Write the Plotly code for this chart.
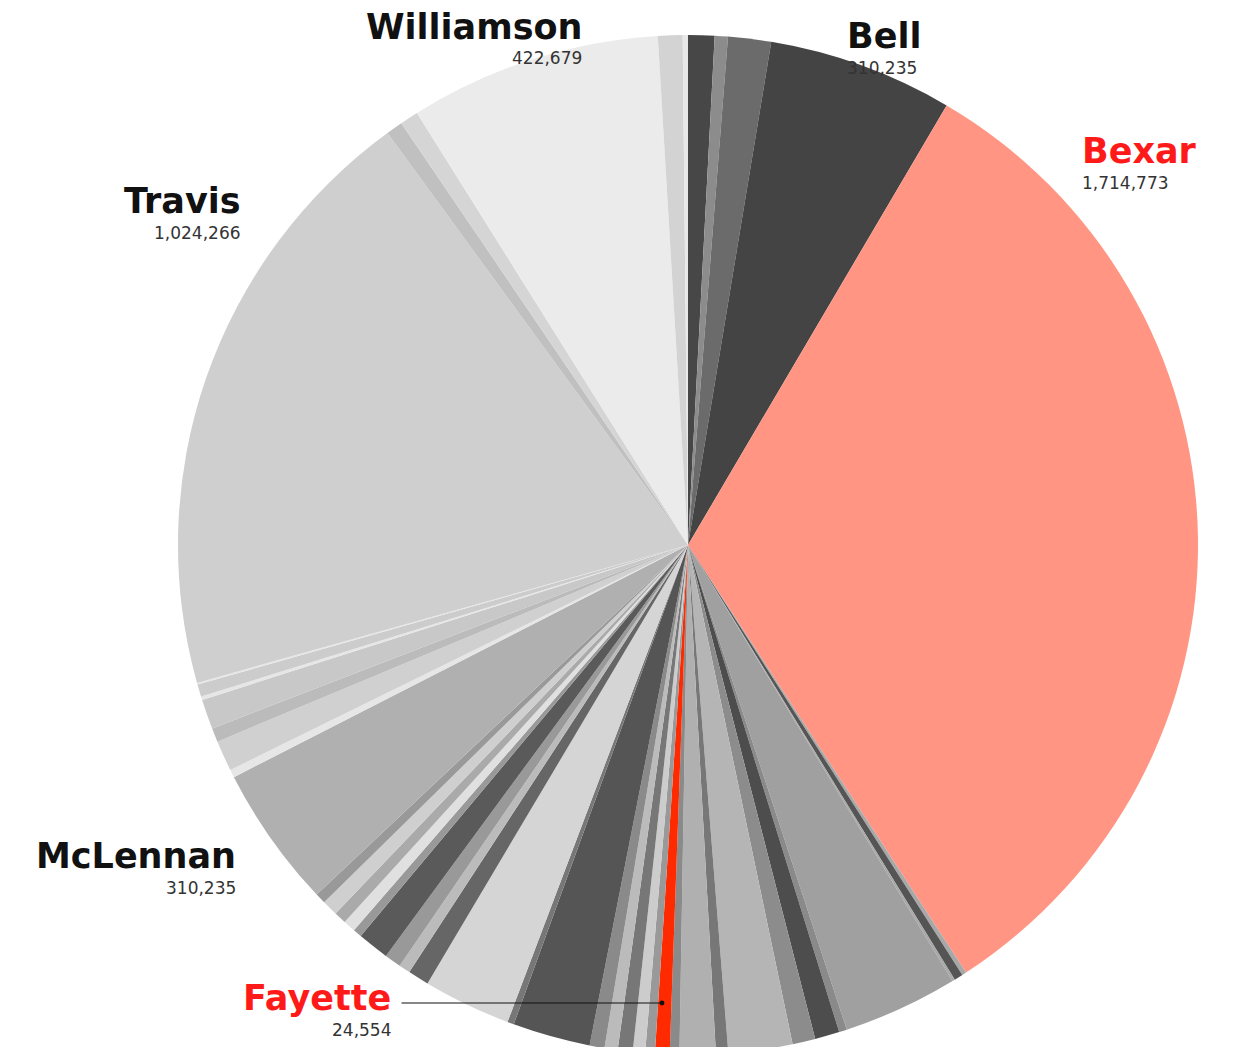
import plotly.graph_objects as go

# Counties clockwise from 12 o'clock; unnamed slivers are the small counties
counties = [
    "c01", "c02", "c03", "Bell", "Bexar",
    "c06", "c07", "c08", "c09", "c10", "c11", "c12", "c13", "c14", "c15", "c16",
    "Fayette",
    "c18", "c19", "c20", "c21", "c22", "c23", "c24", "c25", "c26", "c27", "c28",
    "c29", "c30", "c31", "c32", "c33", "c34",
    "McLennan",
    "c36", "c37", "c38", "c39", "c40", "c41", "c42",
    "Travis",
    "c44", "c45",
    "Williamson",
    "c47", "c48",
]
population = [
    44166, 22083, 72138, 310235, 1714773,
    7400, 14700, 4400, 192900, 13250, 41200, 38300, 107500, 20600, 60400, 16200,
    24554,
    16200, 20600, 25000, 22100, 25000, 130300, 11000, 147200, 35300, 19100, 28000,
    53000, 14700, 20600, 20600, 26500, 17700,
    238500,
    13250, 51500, 23550, 50000, 5900, 20600, 2900,
    1024266,
    28000, 30900,
    422679,
    41200, 8800,
]
slice_colors = [
    "#474747", "#8c8c8c", "#6b6b6b", "#444444", "#ff9582",
    "#a8a8a8", "#555555", "#a8a8a8", "#a0a0a0", "#8a8a8a", "#4d4d4d", "#8c8c8c",
    "#b5b5b5", "#777777", "#b0b0b0", "#8a8a8a",
    "#ff2a00",
    "#999999", "#cccccc", "#777777", "#bbbbbb", "#8a8a8a", "#555555", "#777777",
    "#d5d5d5", "#666666", "#bbbbbb", "#999999", "#5a5a5a", "#999999", "#e0e0e0",
    "#aaaaaa", "#cfcfcf", "#999999",
    "#b0b0b0",
    "#e6e6e6", "#d0d0d0", "#bbbbbb", "#c8c8c8", "#e6e6e6", "#cccccc", "#e6e6e6",
    "#cfcfcf",
    "#c0c0c0", "#d5d5d5",
    "#ebebeb",
    "#d3d3d3", "#e8e8e8",
]

# Callout labels (name, shown figure)
label_names = ["Williamson", "Bell", "Bexar", "Travis", "McLennan", "Fayette"]
label_values = ["422,679", "310,235", "1,714,773", "1,024,266", "310,235", "24,554"]

W, H = 1243, 1047
OFF = 8  # page margin around the plot div


def fx(px):
    return (px - OFF) / W


def fy(py):
    return 1 - (py - OFF) / H


fig = go.Figure()

cx, cy, r = 688, 545, 510
fig.add_trace(go.Pie(
    labels=counties,
    values=population,
    sort=False,
    direction="clockwise",
    rotation=0,
    textinfo="none",
    hoverinfo="label+value",
    marker=dict(colors=slice_colors, line=dict(width=0)),
    domain=dict(x=[fx(cx - r), fx(cx + r)], y=[max(0, fy(cy + r)), fy(cy - r)]),
    showlegend=False,
))

# label placement in pixels: (x, name y, value y, anchor, colour)
placement = {
    "Williamson": (584, 27, 58, "right", "#111111"),
    "Bell": (845, 36, 68, "left", "#111111"),
    "Bexar": (1080, 151, 183, "left", "#ff1a1a"),
    "Travis": (243, 201, 233, "right", "#111111"),
    "McLennan": (238, 856, 888, "right", "#111111"),
    "Fayette": (393, 998, 1030, "right", "#ff1a1a"),
}

for name, val in zip(label_names, label_values):
    px, ny, vy, anchor, col = placement[name]
    fig.add_annotation(
        xref="paper", yref="paper",
        x=fx(px), y=fy(ny),
        xanchor=anchor, yanchor="middle",
        text=f"<b>{name}</b>",
        showarrow=False,
        font=dict(family="DejaVu Sans", size=35, color=col),
    )
    fig.add_annotation(
        xref="paper", yref="paper",
        x=fx(px), y=fy(vy),
        xanchor=anchor, yanchor="middle",
        text=val,
        showarrow=False,
        font=dict(family="DejaVu Sans", size=17, color="#333333"),
    )

# leader line from the Fayette label to its sliver
fig.add_annotation(
    xref="paper", yref="paper",
    x=fx(662), y=fy(1003),
    ax=400 - 662, ay=0,
    text="",
    showarrow=True,
    arrowhead=6, arrowsize=1.2, arrowwidth=1,
    arrowcolor="#111111",
)

fig.update_layout(
    width=W, height=H,
    margin=dict(l=0, r=0, t=0, b=0),
    paper_bgcolor="white",
    plot_bgcolor="white",
)

fig.write_html("out.html")
